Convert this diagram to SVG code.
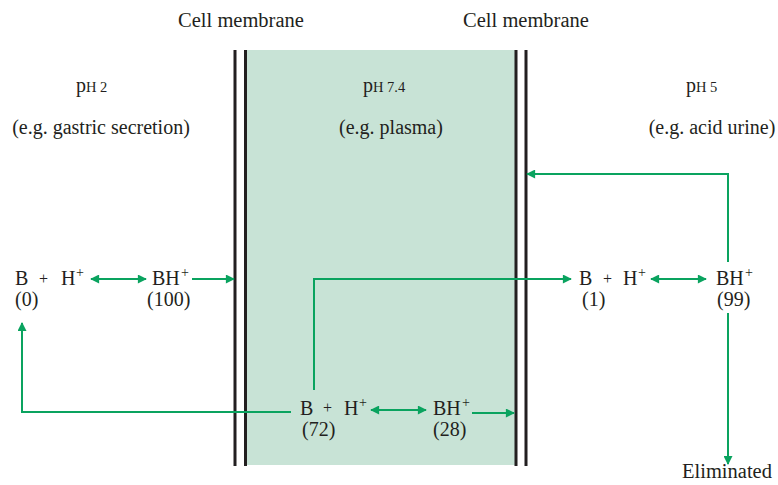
<svg xmlns="http://www.w3.org/2000/svg" width="778" height="485" viewBox="0 0 778 485">
<style>
text{font-family:"Liberation Serif","Times New Roman",serif;fill:#231f20;font-size:20px}
.sm{font-size:14.5px}
.p{font-size:20px}
.sup{font-size:14px}
.op{font-size:16px}
.mem{stroke:#231f20;stroke-width:3;fill:none}
.conn{stroke:#0aa35f;stroke-width:2;fill:none}
</style>
<defs>
<marker id="ah" viewBox="0 0 10 10" refX="9" refY="5" markerWidth="10" markerHeight="9" markerUnits="userSpaceOnUse" orient="auto-start-reverse">
<path d="M0,0 L10,5 L0,10 Z" fill="#0aa35f"/>
</marker>
</defs>
<rect x="247" y="50" width="268" height="415" fill="#c8e3d6"/>
<g id="membrane-left">
<line class="mem" x1="235" y1="50" x2="235" y2="466"/>
<line class="mem" x1="245.5" y1="50" x2="245.5" y2="466"/>
<text x="241" y="27" text-anchor="middle" style="font-size:20.5px">Cell membrane</text>
</g>
<g id="membrane-right">
<line class="mem" x1="516" y1="50" x2="516" y2="466"/>
<line class="mem" x1="526" y1="50" x2="526" y2="466"/>
<text x="526" y="27" text-anchor="middle" style="font-size:20.5px">Cell membrane</text>
</g>
<g id="compartment-left">
<text x="76" y="92" class="p">p<tspan class="sm">H 2</tspan></text>
<text x="101" y="134" text-anchor="middle">(e.g. gastric secretion)</text>
</g>
<g id="compartment-middle">
<text x="363" y="92" class="p">p<tspan class="sm">H 7.4</tspan></text>
<text x="391" y="134" text-anchor="middle">(e.g. plasma)</text>
</g>
<g id="compartment-right">
<text x="686" y="92" class="p">p<tspan class="sm">H 5</tspan></text>
<text x="712" y="134" text-anchor="middle">(e.g. acid urine)</text>
</g>
<g id="left-base">
<text><tspan x="15" y="285">B</tspan><tspan x="39" y="284" class="op">+</tspan><tspan x="61" y="285">H</tspan><tspan x="76" y="277" class="sup">+</tspan><tspan x="15" y="306">(0)</tspan></text>
</g>
<g id="left-acid">
<text><tspan x="152" y="285">BH</tspan><tspan x="181" y="277" class="sup">+</tspan><tspan x="147" y="306">(100)</tspan></text>
</g>
<g id="mid-base">
<text><tspan x="300" y="415">B</tspan><tspan x="323" y="413" class="op">+</tspan><tspan x="344" y="415">H</tspan><tspan x="359" y="407" class="sup">+</tspan><tspan x="302" y="436">(72)</tspan></text>
</g>
<g id="mid-acid">
<text><tspan x="433" y="415">BH</tspan><tspan x="462" y="407" class="sup">+</tspan><tspan x="433" y="436">(28)</tspan></text>
</g>
<g id="right-base">
<text><tspan x="579" y="285">B</tspan><tspan x="603" y="284" class="op">+</tspan><tspan x="623" y="285">H</tspan><tspan x="638" y="277" class="sup">+</tspan><tspan x="582" y="306">(1)</tspan></text>
</g>
<g id="right-acid">
<text><tspan x="716" y="285">BH</tspan><tspan x="745" y="277" class="sup">+</tspan><tspan x="717" y="306">(99)</tspan></text>
</g>
<g id="eliminated">
<text x="682" y="478" style="font-size:20.5px">Eliminated</text>
</g>
<g id="connectors">
<line class="conn" x1="91" y1="279" x2="146" y2="279" marker-start="url(#ah)" marker-end="url(#ah)"/>
<line class="conn" x1="192" y1="279" x2="234" y2="279" marker-end="url(#ah)"/>
<line class="conn" x1="371" y1="410" x2="426" y2="410" marker-start="url(#ah)" marker-end="url(#ah)"/>
<line class="conn" x1="472" y1="413" x2="514" y2="413" marker-end="url(#ah)"/>
<line class="conn" x1="651" y1="279" x2="706" y2="279" marker-start="url(#ah)" marker-end="url(#ah)"/>
<polyline class="conn" points="314,390 314,279 571,279" marker-end="url(#ah)"/>
<polyline class="conn" points="291,412 22,412 22,323" marker-end="url(#ah)"/>
<polyline class="conn" points="728,262 728,174 527,174" marker-end="url(#ah)"/>
<line class="conn" x1="728" y1="313" x2="728" y2="464" marker-end="url(#ah)"/>
</g>
</svg>
